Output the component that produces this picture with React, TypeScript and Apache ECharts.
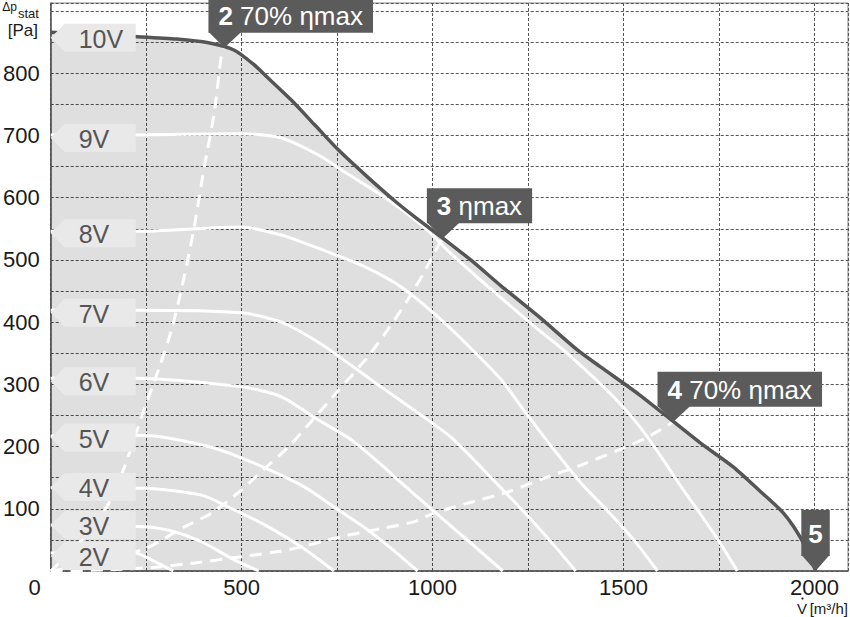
import { useEffect, useRef } from 'react';
import * as echarts from 'echarts';

const FONT = '"Liberation Sans", Arial, Helvetica, sans-serif';

// axis ranges
const X_MAX = 2088;
const Y_MAX = 913;
const X_LABELED = [0, 500, 1000, 1500, 2000];
const Y_LABELED = [100, 200, 300, 400, 500, 600, 700, 800];

// fan curves  [V m3/h, dp Pa]
const CURVE_10V = [[0, 866], [220, 859], [330, 855], [413, 849], [481, 837], [530, 815], [570, 792], [630, 757], [690, 718], [753, 677], [825, 636], [899, 596], [960, 566], [1025, 536], [1100, 500], [1180, 458], [1280, 408], [1380, 355], [1440, 328], [1540, 284], [1631, 240], [1701, 206], [1788, 167], [1860, 127], [1919, 93], [1965, 52], [1997, 10], [2003, 0]];
const CURVE_9V = [[0, 701], [220, 701], [499, 703], [604, 696], [700, 669], [768, 642], [873, 601], [977, 553], [1040, 515], [1108, 477], [1265, 394], [1343, 355], [1474, 280], [1545, 230], [1597, 185], [1657, 130], [1701, 92], [1750, 48], [1798, 0]];
const CURVE_8V = [[0, 546], [220, 546], [499, 553], [604, 540], [656, 529], [734, 511], [830, 487], [917, 457], [1004, 414], [1092, 363], [1179, 308], [1249, 250], [1318, 195], [1388, 142], [1458, 97], [1527, 50], [1589, 0]];
const CURVE_7V = [[0, 419], [220, 419], [499, 415], [604, 400], [700, 368], [768, 339], [865, 296], [962, 254], [1048, 215], [1150, 152], [1250, 88], [1320, 40], [1375, 0]];
const CURVE_6V = [[0, 310], [220, 310], [499, 296], [604, 280], [700, 243], [787, 211], [873, 167], [910, 146], [1000, 98], [1100, 45], [1184, 0]];
const CURVE_5V = [[0, 217], [245, 218], [395, 203], [499, 182], [656, 138], [742, 103], [831, 66], [900, 32], [961, 0]];
const CURVE_4V = [[0, 134], [245, 133], [395, 122], [465, 103], [570, 71], [656, 39], [742, 0]];
const CURVE_3V = [[0, 74], [245, 71], [324, 63], [395, 47], [481, 18], [545, 0]];
const CURVE_2V = [[0, 29], [220, 29], [264, 18], [321, 0]];
const WHITE_CURVES = [CURVE_9V, CURVE_8V, CURVE_7V, CURVE_6V, CURVE_5V, CURVE_4V, CURVE_3V, CURVE_2V];

// efficiency (system) curves
const SYS_70_LOW = [[0, 0], [60, 35], [110, 70], [152, 109], [193, 167], [246, 262], [285, 328], [316, 387], [342, 452], [364, 516], [376, 553], [402, 649], [428, 735], [447, 829], [455, 842]];
const SYS_MAX = [[0, 0], [120, 12], [251, 37], [350, 71], [421, 93], [499, 130], [570, 170], [622, 199], [682, 240], [753, 290], [830, 344], [883, 388], [935, 436], [977, 479], [1004, 511], [1027, 535]];
const SYS_70_HIGH = [[0, 0], [150, 2], [272, 6], [377, 13], [499, 23], [622, 34], [760, 55], [873, 69], [951, 79], [1004, 93], [1092, 109], [1197, 127], [1291, 149], [1388, 170], [1485, 194], [1563, 215], [1631, 240]];

// voltage labels
const VOLT_LABELS = ['10V', '9V', '8V', '7V', '6V', '5V', '4V', '3V', '2V'];
const VOLT_LABEL_P = [857, 696, 543, 415, 305, 214, 135, 74, 24];

// operating point callouts
const CALLOUT_NUM = ['2', '3', '4', '5'];
const CALLOUT_TEXT = ['70% ηmax', 'ηmax', '70% ηmax', ''];
const CALLOUT_V = [455, 1027, 1631, 2003];
const CALLOUT_P = [841, 535, 240, 0];

export default function App() {
  const ref = useRef<HTMLDivElement>(null);
  useEffect(() => {
    if (!ref.current) return;
    const chart = echarts.init(ref.current, null, { renderer: 'svg' });
    const whiteSeries = WHITE_CURVES.map((c) => ({
      type: 'line',
      data: c,
      symbol: 'none',
      smooth: 0.25,
      silent: true,
      z: 3,
      lineStyle: { color: '#ffffff', width: 3 },
    }));
    const dashedSeries = [SYS_70_LOW, SYS_MAX, SYS_70_HIGH].map((c) => ({
      type: 'line',
      data: c,
      symbol: 'none',
      smooth: 0.25,
      silent: true,
      z: 3,
      lineStyle: { color: '#ffffff', width: 3, type: [12, 8] },
    }));
    chart.setOption({
      animation: false,
      backgroundColor: '#ffffff',
      grid: { left: 49, right: 2, top: 3, bottom: 46, show: true, borderColor: '#888', borderWidth: 1 },
      xAxis: {
        type: 'value',
        min: 0,
        max: X_MAX,
        interval: 250,
        axisLine: { show: true, lineStyle: { color: '#555', width: 1.5 } },
        axisTick: { show: false },
        splitLine: { show: true, lineStyle: { color: '#555', width: 1, type: [3, 2] } },
        axisLabel: {
          margin: 5,
          fontSize: 22,
          lineHeight: 22,
          fontFamily: FONT,
          color: '#1a1a1a',
          showMaxLabel: false,
          formatter: (v: number) => (v === 0 ? '{z|0}' : X_LABELED.includes(v) ? String(v) : ''),
          rich: { z: { fontSize: 22, lineHeight: 22, fontFamily: FONT, color: '#1a1a1a', padding: [0, 32, 0, 0] } },
        },
      },
      yAxis: {
        type: 'value',
        min: 0,
        max: Y_MAX,
        interval: 50,
        axisLine: { show: true, lineStyle: { color: '#555', width: 1.5 } },
        axisTick: { show: false },
        splitLine: { show: true, lineStyle: { color: '#555', width: 1, type: [3, 2] } },
        axisLabel: {
          margin: 11,
          fontSize: 22,
          fontFamily: FONT,
          color: '#1a1a1a',
          showMaxLabel: false,
          formatter: (v: number) => (Y_LABELED.includes(v) ? String(v) : ''),
        },
      },
      graphic: [
        { type: 'text', x: 17, y: 7, style: { text: 'Δp', font: `12px ${FONT}`, fill: '#1a1a1a', textAlign: 'right', textVerticalAlign: 'middle' } },
        { type: 'text', x: 18, y: 13, style: { text: 'stat', font: `13px ${FONT}`, fill: '#1a1a1a', textAlign: 'left', textVerticalAlign: 'middle' } },
        { type: 'text', x: 38, y: 30, style: { text: '[Pa]', font: `17px ${FONT}`, fill: '#1a1a1a', textAlign: 'right', textVerticalAlign: 'middle' } },
        { type: 'text', x: 797, y: 608, style: { text: 'V', font: `15px ${FONT}`, fill: '#1a1a1a', textAlign: 'left', textVerticalAlign: 'middle' } },
        { type: 'circle', shape: { cx: 802.5, cy: 598.5, r: 1.1 }, style: { fill: '#1a1a1a' } },
        { type: 'text', x: 848, y: 608, style: { text: '[m³/h]', font: `15px ${FONT}`, fill: '#1a1a1a', textAlign: 'right', textVerticalAlign: 'middle' } },
      ],
      series: [
        {
          type: 'line', data: CURVE_10V, symbol: 'none', smooth: 0.25, silent: true, z: 1,
          lineStyle: { width: 0, color: 'transparent' },
          areaStyle: { color: 'rgba(0,0,0,0.18)', origin: 'start' },
        },
        ...whiteSeries,
        ...dashedSeries,
        {
          type: 'line', data: CURVE_10V, symbol: 'none', smooth: 0.25, silent: true, z: 5,
          lineStyle: { width: 3.5, color: '#555555' },
        },
        {
          type: 'custom',
          coordinateSystem: 'cartesian2d',
          silent: true,
          z: 10,
          data: VOLT_LABEL_P.map((p, i) => [0, p, i]),
          encode: { x: 0, y: 1 },
          renderItem: (params: any, api: any) => {
            const pt = api.coord([0, api.value(1)]);
            const x0 = pt[0];
            const y0 = pt[1];
            return {
              type: 'group',
              children: [
                {
                  type: 'polygon',
                  shape: { points: [[x0, y0], [x0 + 14, y0 - 14], [x0 + 85, y0 - 14], [x0 + 85, y0 + 14], [x0 + 14, y0 + 14]] },
                  style: { fill: '#e9e9e9' },
                },
                {
                  type: 'text',
                  x: x0 + 28,
                  y: y0 + 1,
                  style: { text: VOLT_LABELS[params.dataIndex], font: `25px ${FONT}`, fill: '#555555', textAlign: 'left', textVerticalAlign: 'middle' },
                },
              ],
            };
          },
        },
        {
          type: 'custom',
          coordinateSystem: 'cartesian2d',
          silent: true,
          z: 11,
          data: CALLOUT_V.map((v, i) => [v, CALLOUT_P[i], i]),
          encode: { x: 0, y: 1 },
          renderItem: (params: any, api: any) => {
            const i = params.dataIndex;
            const pt = api.coord([api.value(0), api.value(1)]);
            const centered = CALLOUT_TEXT[i] === '';
            const boxBottom = pt[1] - 15;
            const l = centered ? pt[0] - 14 : pt[0] - 16;
            const r = centered ? pt[0] + 14 : pt[0] + 17;
            const txt = centered ? `{b|${CALLOUT_NUM[i]}}` : `{b|${CALLOUT_NUM[i]}} ${CALLOUT_TEXT[i]}`;
            return {
              type: 'group',
              children: [
                { type: 'polygon', shape: { points: [[l, boxBottom - 1], [r, boxBottom - 1], [pt[0], pt[1]]] }, style: { fill: '#5b5b5b' } },
                {
                  type: 'text',
                  x: centered ? pt[0] : l,
                  y: boxBottom,
                  style: {
                    text: txt,
                    font: `26px ${FONT}`,
                    fill: '#ffffff',
                    textAlign: centered ? 'center' : 'left',
                    textVerticalAlign: 'bottom',
                    backgroundColor: '#5b5b5b',
                    padding: centered ? [11, 7, 9, 7] : [5, 10, 4, 10],
                    rich: { b: { fontSize: 26, fontWeight: 'bold', fontFamily: FONT, fill: '#ffffff' } },
                  },
                },
              ],
            };
          },
        },
      ],
    });
    return () => chart.dispose();
  }, []);
  return <div ref={ref} style={{ position: 'absolute', left: 0, top: 0, width: 850, height: 617 }} />;
}
